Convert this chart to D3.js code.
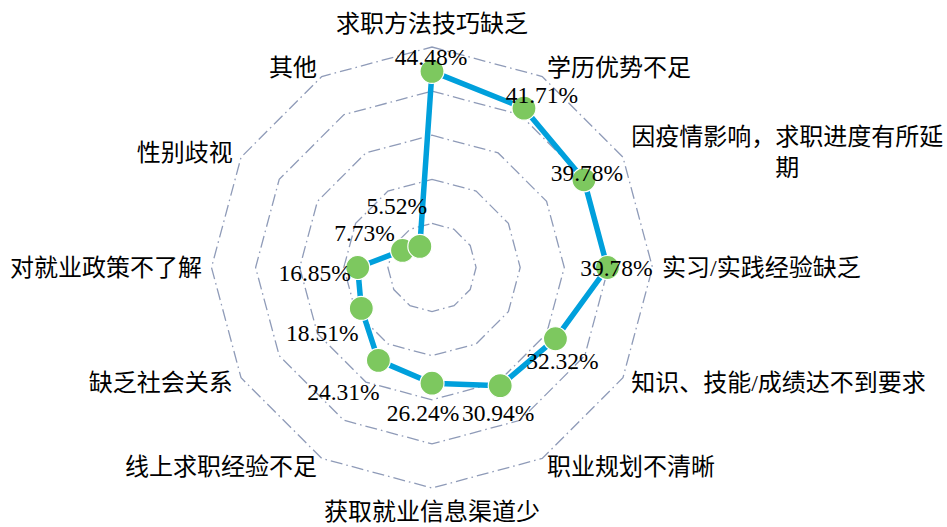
<!DOCTYPE html>
<html>
<head>
<meta charset="utf-8">
<script src="https://cdn.jsdelivr.net/npm/d3@7/dist/d3.min.js"></script>
<style>
html,body{margin:0;padding:0;background:#fff;}
svg{display:block;}
</style>
</head>
<body>
<svg id="chart" width="947" height="527"></svg>
<script>
const categories = ["求职方法技巧缺乏","学历优势不足","因疫情影响，求职进度有所延期","实习/实践经验缺乏","知识、技能/成绩达不到要求","职业规划不清晰","获取就业信息渠道少","线上求职经验不足","缺乏社会关系","对就业政策不了解","性别歧视","其他"];
const values = [44.48, 41.71, 39.78, 39.78, 32.32, 30.94, 26.24, 24.31, 18.51, 16.85, 7.73, 5.52];
const ringTicks = [10, 20, 30, 40, 50];
// data label offsets relative to each marker (dx, dy)
const labelOffsets = [[-1,-14],[18,-13],[3,-7],[9,0],[7,22],[-2,27],[-9,30],[-35,32],[-39,25],[-43,5],[-38,-17],[-23,-40]];

const W = 947, H = 527, cx = 432, cy = 267.5, R = 220.5;
const svg = d3.select("#chart");
const g = svg.append("g").attr("transform", `translate(${cx},${cy})`);

const r = d3.scaleLinear().domain([0, 50]).range([0, R]);
const angle = d3.scaleLinear().domain([0, categories.length]).range([0, 2 * Math.PI]);
const pt = (i, v) => [r(v) * Math.sin(angle(i)), -r(v) * Math.cos(angle(i))];

// grid rings
const idx = d3.range(categories.length);
g.append("g").selectAll("path").data(ringTicks).join("path")
  .attr("d", t => d3.line()(idx.map(i => pt(i, t))) + "Z")
  .attr("fill", "none")
  .attr("stroke", "#8f9bb8")
  .attr("stroke-width", 1.3)
  .attr("stroke-dasharray", "12,4,1.6,4");

// series line
g.append("path")
  .attr("d", d3.line()(values.map((v, i) => pt(i, v))) + "Z")
  .attr("fill", "none")
  .attr("stroke", "#00a0dc")
  .attr("stroke-width", 5.5)
  .attr("stroke-linejoin", "miter");

// markers
g.append("g").selectAll("circle").data(values).join("circle")
  .attr("cx", (v, i) => pt(i, v)[0])
  .attr("cy", (v, i) => pt(i, v)[1])
  .attr("r", 12)
  .attr("fill", "#7dc85f")
  .attr("stroke", "#ffffff")
  .attr("stroke-width", 1.2);

// data labels
g.append("g").selectAll("text").data(values).join("text")
  .attr("x", (v, i) => pt(i, v)[0] + labelOffsets[i][0])
  .attr("y", (v, i) => pt(i, v)[1] + labelOffsets[i][1])
  .attr("text-anchor", "middle")
  .attr("dominant-baseline", "central")
  .attr("font-family", "'Liberation Serif','Times New Roman',serif")
  .attr("font-size", 23.5)
  .attr("fill", "#000")
  .text(v => v.toFixed(2) + "%");

// category labels
const labelFont = "'Liberation Serif','Noto Sans CJK SC',serif";
const fs = 24, lineH = 31.5, LR = 230;
const catG = g.append("g");
categories.forEach((c, i) => {
  const a = angle(i);
  const s = Math.sin(a), co = Math.cos(a);
  const x = LR * s, y = -LR * co;
  let anchor = Math.abs(s) < 0.01 ? "middle" : (s > 0 ? "start" : "end");
  const avail = anchor === "start" ? (W - cx - x + 2) : anchor === "end" ? (cx + x + 2) : W;
  // measure & wrap
  const meas = catG.append("text").attr("font-family", labelFont).attr("font-size", fs);
  const lines = [];
  let cur = "";
  for (const ch of c) {
    meas.text(cur + ch);
    if (meas.node().getComputedTextLength() > avail && cur.length) {
      lines.push(cur); cur = ch;
    } else cur += ch;
  }
  lines.push(cur);
  const widths = lines.map(l => { meas.text(l); return meas.node().getComputedTextLength(); });
  meas.remove();
  const bw = d3.max(widths);
  let tx = x, ta = anchor;
  if (lines.length > 1) {
    ta = "middle";
    tx = anchor === "start" ? x + bw / 2 : anchor === "end" ? x - bw / 2 : x;
  }
  let yc = y;
  if (Math.abs(s) < 0.01) yc = y + (co > 0 ? -14 : 14);
  const y0 = yc - (lines.length - 1) * lineH / 2;
  const t = catG.append("text")
    .attr("font-family", labelFont)
    .attr("font-size", fs)
    .attr("fill", "#000")
    .attr("text-anchor", ta)
    .attr("dominant-baseline", "central");
  lines.forEach((l, k) => {
    t.append("tspan").attr("x", tx).attr("y", y0 + k * lineH).text(l);
  });
});
</script>
</body>
</html>
